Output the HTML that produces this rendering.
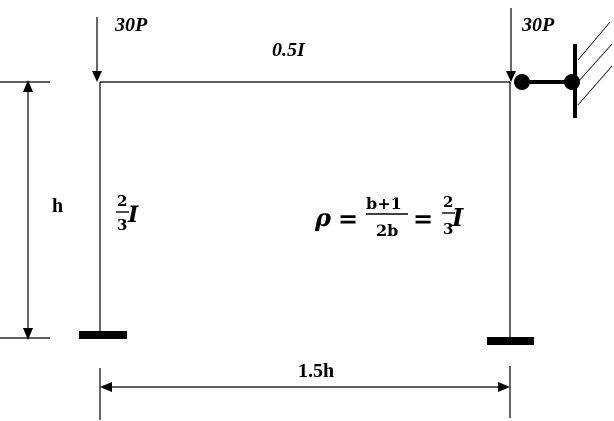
<!DOCTYPE html>
<html><head><style>body{margin:0;background:#fff}svg{display:block}</style></head><body>
<svg width="614" height="421" xmlns="http://www.w3.org/2000/svg" font-family="'Liberation Serif',serif">
<g stroke="#000" stroke-width="1.2" fill="none">
<line x1="100" y1="82" x2="510" y2="82"/>
<line x1="100" y1="82" x2="100" y2="332"/>
<line x1="510" y1="82" x2="510" y2="338"/>
<line x1="97" y1="17" x2="97" y2="72"/>
<line x1="511" y1="8" x2="511" y2="72"/>
<line x1="0" y1="82" x2="50" y2="82"/>
<line x1="0" y1="338" x2="50" y2="338"/>
<line x1="28" y1="90" x2="28" y2="330"/>
<line x1="100" y1="368" x2="100" y2="420"/>
<line x1="510" y1="366" x2="510" y2="418"/>
<line x1="108" y1="387" x2="502" y2="387"/>
<line x1="578" y1="60" x2="610" y2="22" stroke-width="0.8"/>
<line x1="578" y1="82" x2="612" y2="44" stroke-width="0.8"/>
<line x1="578" y1="105" x2="612" y2="66" stroke-width="0.8"/>
<line x1="522" y1="82" x2="572" y2="82" stroke-width="4"/>
<line x1="575" y1="44" x2="575" y2="118" stroke-width="4"/>
</g>
<g fill="#000">
<polygon points="92,71 102,71 97,82"/>
<polygon points="506,71 516,71 511,82"/>
<polygon points="23,92 33,92 28,80"/>
<polygon points="23,328 33,328 28,340"/>
<polygon points="100,387 112,382 112,392"/>
<polygon points="510,387 498,382 498,392"/>
<rect x="79" y="331" width="48" height="8"/>
<rect x="487" y="337" width="47" height="8"/>
<circle cx="522" cy="82" r="8"/>
<circle cx="572" cy="82" r="8"/>
</g>
<g font-weight="bold" font-size="20">
<text x="115" y="31" font-style="italic">30P</text>
<text x="522" y="31" font-style="italic">30P</text>
<text x="272" y="56" font-style="italic">0.5I</text>
<text x="52" y="212">h</text>
<text x="298" y="377">1.5h</text>
</g>
<g font-family="'DejaVu Serif',serif" font-weight="bold">
<text x="117" y="206" font-size="15">2</text>
<line x1="116" y1="212" x2="129" y2="212" stroke="#000" stroke-width="1.4"/>
<text x="117" y="230" font-size="15">3</text>
<text x="128" y="222" font-size="22" font-style="italic">I</text>
<text x="315" y="226" font-size="24" font-style="italic">ρ</text>
<text x="338" y="227" font-size="24">=</text>
<text x="366" y="209" font-size="16">b+1</text>
<line x1="366" y1="214" x2="408" y2="214" stroke="#000" stroke-width="1.4"/>
<text x="376" y="236" font-size="16">2b</text>
<text x="413" y="227" font-size="24">=</text>
<text x="443" y="207" font-size="15">2</text>
<line x1="442" y1="213" x2="455" y2="213" stroke="#000" stroke-width="1.4"/>
<text x="443" y="234" font-size="15">3</text>
<text x="452" y="226" font-size="24" font-style="italic">I</text>
</g>
</svg>
</body></html>
